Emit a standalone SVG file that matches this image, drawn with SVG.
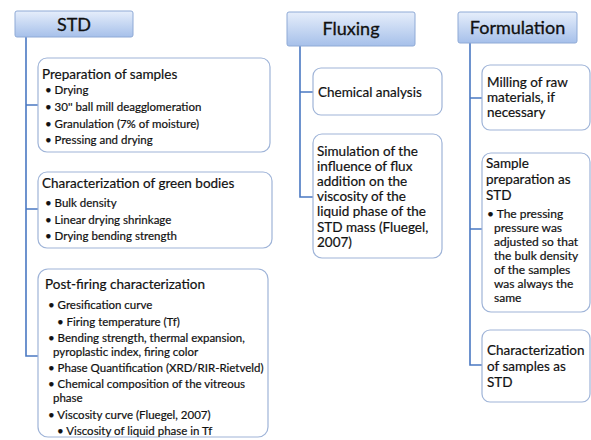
<svg xmlns="http://www.w3.org/2000/svg" width="591" height="440" viewBox="0 0 591 440">
<defs>
<linearGradient id="hg" x1="0" y1="0" x2="0" y2="1">
<stop offset="0" stop-color="#e6eefb"/>
<stop offset="1" stop-color="#a6c0ea"/>
</linearGradient>
<style>
.hdr{fill:url(#hg);stroke:#8faad6;stroke-width:1}
.hdt{font-family:Lato,"Liberation Sans",sans-serif;font-size:18px;fill:#111;stroke:#111;stroke-width:0.3;text-anchor:middle}
.box{fill:#fff;stroke:#9fb4d8;stroke-width:1.2}
.t{font-family:Lato,"Liberation Sans",sans-serif;font-size:13.5px;fill:#111;stroke:#111;stroke-width:0.2}
.b{font-family:Lato,"Liberation Sans",sans-serif;font-size:11.5px;fill:#111;stroke:#111;stroke-width:0.2}
.b2{font-family:Lato,"Liberation Sans",sans-serif;font-size:12px;fill:#111;stroke:#111;stroke-width:0.2}
.ln{fill:none;stroke:#4a78c2;stroke-width:1.6}
</style>
</defs>
<rect width="591" height="440" fill="#fff"/>
<g id="connectors">
<path class="ln" d="M26 37 V356 H40 M26 105 H38 M26 209 H38"/>
<path class="ln" d="M300 46 V197 H313 M300 92 H313"/>
<path class="ln" d="M470 43 V365 H482 M470 98 H482 M470 229 H482"/>
</g>
<g id="std-header">
<rect class="hdr" x="15" y="11" width="118" height="26" rx="2"/>
<text class="hdt" x="74" y="30.5">STD</text>
</g>
<g id="std-prep">
<rect class="box" x="38" y="58" width="232" height="94" rx="9"/>
<text class="t" x="42" y="79">Preparation of samples</text>
<text class="b" x="45" y="94">• Drying</text>
<text class="b" x="45" y="111">• 30'' ball mill deagglomeration</text>
<text class="b" x="45" y="128">• Granulation (7% of moisture)</text>
<text class="b" x="45" y="144">• Pressing and drying</text>
</g>
<g id="std-green">
<rect class="box" x="38" y="172" width="234" height="76" rx="9"/>
<text class="t" x="42" y="187.5">Characterization of green bodies</text>
<text class="b" x="45" y="207">• Bulk density</text>
<text class="b" x="45" y="224">• Linear drying shrinkage</text>
<text class="b" x="45" y="240">• Drying bending strength</text>
</g>
<g id="std-post">
<rect class="box" x="38" y="269" width="230" height="168" rx="10"/>
<text class="t" x="45" y="288.5">Post-firing characterization</text>
<text class="b" x="48" y="309">• Gresification curve</text>
<text class="b" x="57" y="326">• Firing temperature (Tf)</text>
<text class="b" x="48" y="342">• Bending strength, thermal expansion,</text>
<text class="b" x="53" y="356">pyroplastic index, firing color</text>
<text class="b" x="48" y="372">• Phase Quantification (XRD/RIR-Rietveld)</text>
<text class="b" x="48" y="388">• Chemical composition of the vitreous</text>
<text class="b" x="53" y="402">phase</text>
<text class="b" x="48" y="419">• Viscosity curve (Fluegel, 2007)</text>
<text class="b" x="57" y="435">• Viscosity of liquid phase in Tf</text>
</g>
<g id="fluxing-header">
<rect class="hdr" x="287" y="12" width="128" height="34" rx="2"/>
<text class="hdt" x="351" y="35">Fluxing</text>
</g>
<g id="flux-chem">
<rect class="box" x="313" y="68" width="129" height="47" rx="8"/>
<text class="t" x="318" y="96.5">Chemical analysis</text>
</g>
<g id="flux-sim">
<rect class="box" x="313" y="134" width="129" height="124" rx="9"/>
<text class="t" x="317" y="155.5">Simulation of the</text>
<text class="t" x="317" y="170.5">influence of flux</text>
<text class="t" x="317" y="185.5">addition on the</text>
<text class="t" x="317" y="200.5">viscosity of the</text>
<text class="t" x="317" y="215.5">liquid phase of the</text>
<text class="t" x="317" y="231.5">STD mass (Fluegel,</text>
<text class="t" x="317" y="246.5">2007)</text>
</g>
<g id="formulation-header">
<rect class="hdr" x="458" y="12" width="119" height="31" rx="2"/>
<text class="hdt" x="517.5" y="34">Formulation</text>
</g>
<g id="form-milling">
<rect class="box" x="482" y="65" width="108" height="65" rx="8"/>
<text class="t" x="487" y="86.5">Milling of raw</text>
<text class="t" x="487" y="101.5">materials, if</text>
<text class="t" x="487" y="117">necessary</text>
</g>
<g id="form-sample">
<rect class="box" x="482" y="153" width="108" height="159" rx="9"/>
<text class="t" x="486" y="167.5">Sample</text>
<text class="t" x="486" y="183.5">preparation as</text>
<text class="t" x="486" y="199.5">STD</text>
<text class="b2" x="487" y="218">• The pressing</text>
<text class="b2" x="494" y="232">pressure was</text>
<text class="b2" x="494" y="246">adjusted so that</text>
<text class="b2" x="494" y="260">the bulk density</text>
<text class="b2" x="494" y="274">of the samples</text>
<text class="b2" x="494" y="288">was always the</text>
<text class="b2" x="494" y="302">same</text>
</g>
<g id="form-char">
<rect class="box" x="482" y="330" width="108" height="72" rx="8"/>
<text class="t" x="487" y="354.5">Characterization</text>
<text class="t" x="487" y="371">of samples as</text>
<text class="t" x="487" y="386.5">STD</text>
</g>
</svg>
